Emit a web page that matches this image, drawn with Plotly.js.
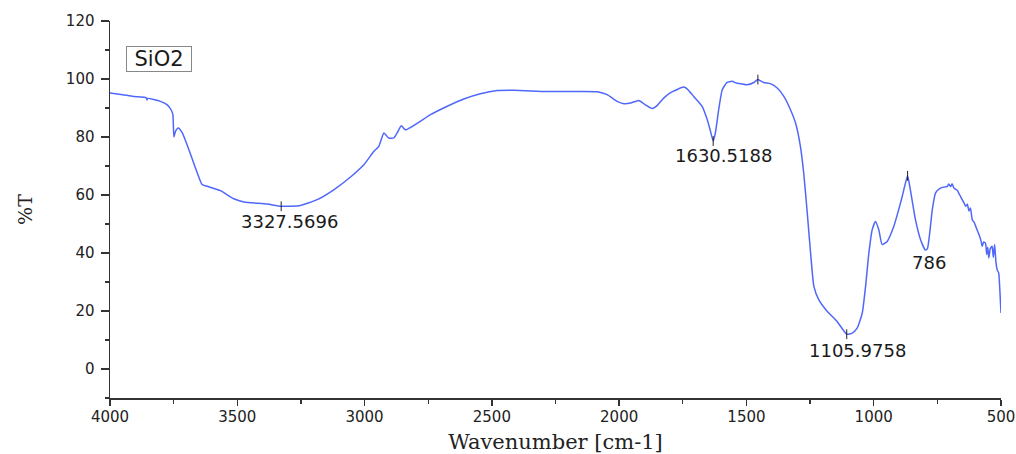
<!DOCTYPE html>
<html>
<head>
<meta charset="utf-8">
<script src="https://cdn.plot.ly/plotly-3.0.1.min.js"></script>
<style>
html,body{margin:0;padding:0;background:#fff;}
#chart{width:1016px;height:454px;}
</style>
</head>
<body>
<div id="chart"></div>
<script>
// Wavenumber (cm-1) and transmittance (%T)
const wavenumber = [4000, 3950, 3908, 3858, 3855, 3852, 3802, 3775, 3760, 3753, 3749, 3743, 3732, 3716, 3690, 3657, 3638, 3618, 3566, 3514, 3474, 3383, 3327.57, 3252, 3186, 3121, 3055, 3003, 2964, 2944, 2924, 2905, 2885, 2872, 2856, 2839, 2741, 2675, 2610, 2545, 2479, 2414, 2283, 2152, 2086, 2047, 2008, 1982, 1955, 1923, 1897, 1870, 1851, 1825, 1798, 1746, 1733, 1707, 1674, 1654, 1641, 1630.52, 1622, 1609, 1595, 1576, 1556, 1540, 1523, 1497, 1471, 1455, 1432, 1406, 1379, 1353, 1327, 1307, 1288, 1275, 1261, 1248, 1235, 1216, 1183, 1144, 1105.98, 1085, 1065, 1045, 1032, 1019, 1006, 993, 980, 967, 947, 921, 902, 888, 867, 856, 836, 816, 797, 789, 780, 770, 757, 738, 711, 705, 698, 692, 685, 672, 665, 659, 650, 645, 639, 632, 626, 620, 613, 605, 594, 585, 578, 574, 568, 561, 556, 552, 548, 542, 535, 530, 525, 520, 515, 509, 505, 500];
const transmittance = [95.2, 94.6, 94.0, 93.6, 92.8, 93.3, 92.3, 91.1, 89.4, 87.7, 80.0, 81.9, 83.1, 81.4, 75.6, 67.6, 63.6, 63.0, 61.5, 58.7, 57.6, 56.9, 56.1, 56.4, 58.4, 61.8, 66.2, 70.4, 75.0, 76.8, 81.4, 79.6, 79.7, 81.4, 83.9, 82.5, 87.7, 90.6, 93.1, 94.9, 96.0, 96.1, 95.7, 95.7, 95.6, 94.6, 92.3, 91.5, 91.7, 92.6, 91.1, 89.8, 90.8, 93.4, 95.3, 97.2, 96.6, 94.0, 90.6, 86.0, 81.9, 78.6, 81.4, 89.4, 96.3, 98.8, 99.2, 98.6, 98.4, 98.0, 98.8, 99.8, 98.8, 98.4, 96.9, 94.0, 89.4, 84.8, 76.8, 67.6, 53.8, 40.0, 28.5, 23.9, 19.9, 16.4, 12.0, 12.4, 14.1, 19.3, 28.5, 40.0, 48.0, 50.9, 48.0, 42.9, 44.0, 49.2, 54.9, 59.5, 66.6, 61.8, 51.5, 44.6, 41.0, 41.5, 46.9, 54.9, 60.7, 62.4, 63.0, 63.8, 62.9, 63.9, 62.4, 61.6, 60.5, 59.5, 58.0, 57.2, 56.1, 56.8, 54.5, 55.5, 51.5, 50.5, 48.0, 46.0, 44.0, 42.3, 43.8, 43.4, 39.5, 42.0, 38.3, 41.5, 42.3, 38.5, 42.9, 37.0, 34.2, 33.1, 28.0, 19.3];

// Peak markers (small ticks on the curve)
const peakX = [3327.57, 1630.52, 1105.98, 1455, 867];
const peakY = [56.1, 78.6, 12.0, 99.8, 66.6];

// Peak labels
const labelText = ["3327.5696", "1630.5188", "1105.9758", "786"];
const labelX = [3293, 1589, 1065, 781];
const labelY = [51.0, 73.7, 6.4, 36.8];

const xTickVals = [4000, 3500, 3000, 2500, 2000, 1500, 1000, 500];
const xTickText = ["4000", "3500", "3000", "2500", "2000", "1500", "1000", "500"];
const yTickVals = [0, 20, 40, 60, 80, 100, 120];
const yTickText = ["0", "20", "40", "60", "80", "100", "120"];

const sans = "DejaVu Sans, Liberation Sans, Arial, sans-serif";
const serif = "DejaVu Serif, Liberation Serif, Times New Roman, serif";

const traces = [
  {
    x: wavenumber, y: transmittance, type: "scatter", mode: "lines",
    line: {color: "#5068fa", width: 1.5, shape: "spline", smoothing: 0.5},
    hoverinfo: "skip", showlegend: false
  },
  {
    x: peakX, y: peakY, type: "scatter", mode: "markers",
    marker: {symbol: "line-ns-open", size: 7, color: "#222", line: {color: "#222", width: 1}},
    hoverinfo: "skip", showlegend: false
  }
];

const annotations = labelText.map((t, i) => ({
  x: labelX[i], y: labelY[i], xref: "x", yref: "y", text: t, showarrow: false,
  xanchor: "center", yanchor: "middle",
  font: {family: sans, size: 18, color: "#1a1a1a"}
}));
annotations.push({
  x: 3809.5, y: 106.8, xref: "x", yref: "y", text: "SiO2", showarrow: false,
  xanchor: "center", yanchor: "middle", width: 62, height: 22,
  bordercolor: "#888", borderwidth: 1, borderpad: 1, bgcolor: "#fff",
  font: {family: sans, size: 21, color: "#1a1a1a"}
});

const axisCommon = {
  showline: true, linecolor: "#333", linewidth: 1.5, mirror: false,
  ticks: "outside", ticklen: 6, tickwidth: 1.3, tickcolor: "#333",
  showgrid: false, zeroline: false,
  tickfont: {family: sans, size: 15, color: "#222"}
};

const layout = {
  width: 1016, height: 454,
  margin: {l: 110, r: 15, t: 21, b: 56},
  paper_bgcolor: "#fff", plot_bgcolor: "#fff",
  xaxis: Object.assign({}, axisCommon, {
    range: [4000, 500], tickmode: "array", tickvals: xTickVals, ticktext: xTickText,
    minor: {dtick: 250, tick0: 500, ticks: "outside", ticklen: 4, tickcolor: "#333", tickwidth: 1.2, showgrid: false},
    ticklabelstandoff: -2,
    title: {text: "Wavenumber [cm-1]", font: {family: serif, size: 21, color: "#222"}, standoff: 10}
  }),
  yaxis: Object.assign({}, axisCommon, {
    range: [-10, 120], tickmode: "array", tickvals: yTickVals, ticktext: yTickText,
    ticklen: 8,
    minor: {dtick: 10, tick0: 0, ticks: "outside", ticklen: 4, tickcolor: "#333", tickwidth: 1.2, showgrid: false},
    ticklabelstandoff: 3,
    title: {text: "%T", font: {family: serif, size: 19, color: "#222"}, standoff: 28}
  }),
  annotations: annotations
};

Plotly.newPlot("chart", traces, layout, {staticPlot: true, displayModeBar: false});
</script>
</body>
</html>
